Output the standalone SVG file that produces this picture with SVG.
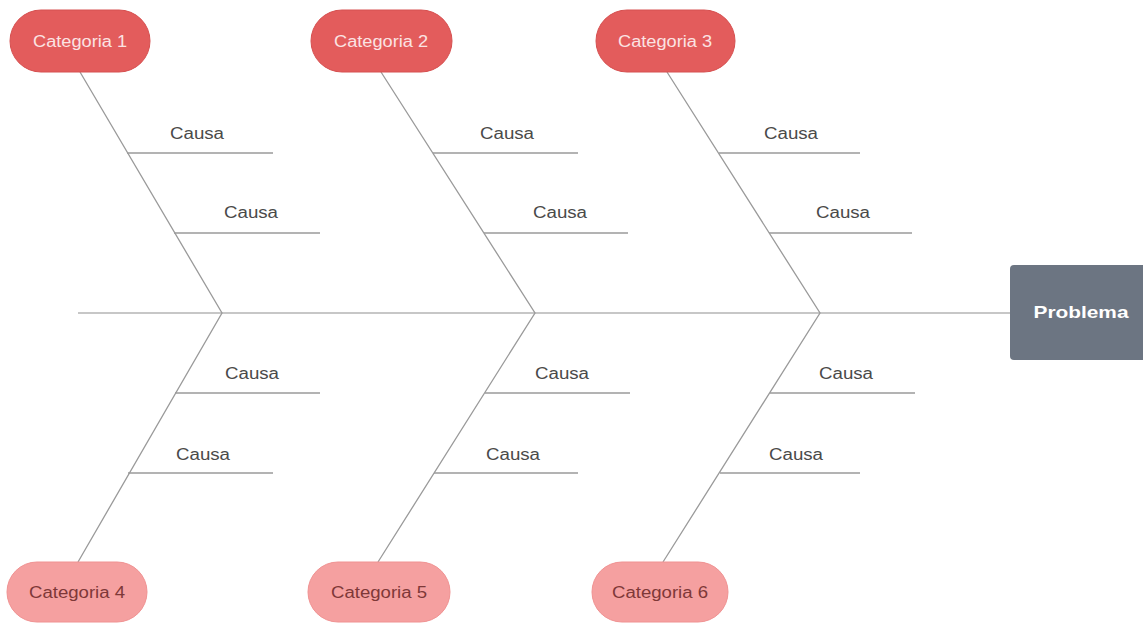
<svg xmlns="http://www.w3.org/2000/svg" width="1143" height="623" viewBox="0 0 1143 623">
<style>
.bone{stroke:#9a9a9a;stroke-width:1.3;fill:none}
.spine{stroke:#b5b5b5;stroke-width:1.3;fill:none}
.causa{font-family:"Liberation Sans",Arial,sans-serif;font-size:16px;fill:#4a4a4a;text-anchor:middle}
.top rect{fill:#e35c5c;stroke:#d65050;stroke-width:1}
.top text{font-family:"Liberation Sans",Arial,sans-serif;font-size:16px;fill:#fbe3e3;text-anchor:middle}
.bot rect{fill:#f5a0a0;stroke:#f09292;stroke-width:1}
.bot text{font-family:"Liberation Sans",Arial,sans-serif;font-size:16px;fill:#7e3838;text-anchor:middle}
.prob rect{fill:#6c7582}
.prob text{font-family:"Liberation Sans",Arial,sans-serif;font-size:17px;font-weight:bold;fill:#ffffff;text-anchor:middle}
</style>
<rect width="1143" height="623" fill="#ffffff"/>
<g id="connectors">
<line class="spine" x1="78" y1="313" x2="1010" y2="313"/>
<polyline class="bone" points="80,72 222,313 78,562"/>
<line class="bone" x1="127" y1="153" x2="273" y2="153"/>
<line class="bone" x1="174" y1="233" x2="320" y2="233"/>
<line class="bone" x1="175" y1="393" x2="320" y2="393"/>
<line class="bone" x1="128" y1="473" x2="273" y2="473"/>
<polyline class="bone" points="381,72 535,313 378,562"/>
<line class="bone" x1="433" y1="153" x2="578" y2="153"/>
<line class="bone" x1="484" y1="233" x2="628" y2="233"/>
<line class="bone" x1="485" y1="393" x2="630" y2="393"/>
<line class="bone" x1="434" y1="473" x2="578" y2="473"/>
<polyline class="bone" points="667,72 820,313 663,562"/>
<line class="bone" x1="719" y1="153" x2="860" y2="153"/>
<line class="bone" x1="769" y1="233" x2="912" y2="233"/>
<line class="bone" x1="770" y1="393" x2="915" y2="393"/>
<line class="bone" x1="720" y1="473" x2="860" y2="473"/>
</g>
<g id="causes">
<text class="causa" x="197" y="139" textLength="54" lengthAdjust="spacingAndGlyphs">Causa</text>
<text class="causa" x="251" y="218" textLength="54" lengthAdjust="spacingAndGlyphs">Causa</text>
<text class="causa" x="252" y="379" textLength="54" lengthAdjust="spacingAndGlyphs">Causa</text>
<text class="causa" x="203" y="460" textLength="54" lengthAdjust="spacingAndGlyphs">Causa</text>
<text class="causa" x="507" y="139" textLength="54" lengthAdjust="spacingAndGlyphs">Causa</text>
<text class="causa" x="560" y="218" textLength="54" lengthAdjust="spacingAndGlyphs">Causa</text>
<text class="causa" x="562" y="379" textLength="54" lengthAdjust="spacingAndGlyphs">Causa</text>
<text class="causa" x="513" y="460" textLength="54" lengthAdjust="spacingAndGlyphs">Causa</text>
<text class="causa" x="791" y="139" textLength="54" lengthAdjust="spacingAndGlyphs">Causa</text>
<text class="causa" x="843" y="218" textLength="54" lengthAdjust="spacingAndGlyphs">Causa</text>
<text class="causa" x="846" y="379" textLength="54" lengthAdjust="spacingAndGlyphs">Causa</text>
<text class="causa" x="796" y="460" textLength="54" lengthAdjust="spacingAndGlyphs">Causa</text>
</g>
<g id="cat1" class="top"><rect x="10" y="10" width="140" height="62" rx="31"/><text x="80" y="47" textLength="94" lengthAdjust="spacingAndGlyphs">Categoria 1</text></g>
<g id="cat2" class="top"><rect x="311" y="10" width="141" height="62" rx="31"/><text x="381" y="47" textLength="94" lengthAdjust="spacingAndGlyphs">Categoria 2</text></g>
<g id="cat3" class="top"><rect x="596" y="10" width="139" height="62" rx="31"/><text x="665" y="47" textLength="94" lengthAdjust="spacingAndGlyphs">Categoria 3</text></g>
<g id="cat4" class="bot"><rect x="7" y="562" width="140" height="60" rx="30"/><text x="77" y="598" textLength="96" lengthAdjust="spacingAndGlyphs">Categoria 4</text></g>
<g id="cat5" class="bot"><rect x="308" y="562" width="142" height="60" rx="30"/><text x="379" y="598" textLength="96" lengthAdjust="spacingAndGlyphs">Categoria 5</text></g>
<g id="cat6" class="bot"><rect x="592" y="562" width="136" height="60" rx="30"/><text x="660" y="598" textLength="96" lengthAdjust="spacingAndGlyphs">Categoria 6</text></g>
<g id="problema" class="prob"><rect x="1010" y="265" width="140" height="95" rx="4"/><text x="1081" y="318" textLength="95" lengthAdjust="spacingAndGlyphs">Problema</text></g>
</svg>
